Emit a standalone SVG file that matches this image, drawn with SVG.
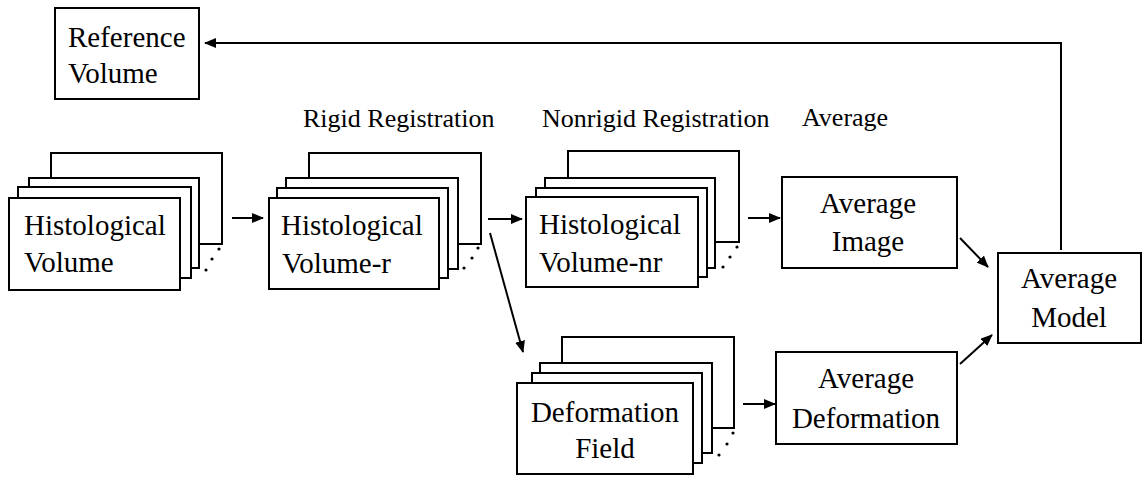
<svg xmlns="http://www.w3.org/2000/svg" width="1143" height="477" viewBox="0 0 1143 477">
<style>
rect{fill:#fff;stroke:#000;stroke-width:2}
text{font-family:"Liberation Serif","Times New Roman",Times,Tinos,"Nimbus Roman","Nimbus Roman No9 L","Noto Serif","DejaVu Serif",FreeSerif,serif;fill:#000}
.m{font-size:29px}
.c{text-anchor:middle}
.l{font-size:26px}
.dot{fill:#000}
.cn line,.cn polyline{stroke:#000;stroke-width:2;fill:none;marker-end:url(#ah)}
</style>
<defs>
<marker id="ah" markerUnits="userSpaceOnUse" markerWidth="12" markerHeight="10" refX="11" refY="5" orient="auto">
<path d="M0,0 L12,5 L0,10 Z" fill="#000"/>
</marker>
</defs>
<rect width="1143" height="477" style="fill:#fff;stroke:none"/>

<g id="reference-volume">
<rect x="55" y="8" width="144" height="91"/>
<text class="m" x="68" y="47">Reference</text>
<text class="m" x="68" y="83">Volume</text>
</g>

<g id="labels">
<text class="l" x="303" y="127">Rigid Registration</text>
<text class="l" x="542" y="127">Nonrigid Registration</text>
<text class="l" x="802" y="126">Average</text>
</g>

<g id="histological-volume">
<rect x="51" y="153" width="171" height="91"/>
<rect x="29" y="178" width="170" height="90"/>
<rect x="18" y="187" width="173" height="91"/>
<rect x="9" y="198" width="171" height="92"/>
<circle class="dot" cx="206" cy="270" r="1.6"/>
<circle class="dot" cx="212" cy="259" r="1.6"/>
<circle class="dot" cx="219" cy="249" r="1.6"/>
<text class="m" x="24" y="235">Histological</text>
<text class="m" x="24" y="272">Volume</text>
</g>

<g id="histological-volume-r">
<rect x="309" y="153" width="172" height="91"/>
<rect x="286" y="178" width="172" height="91"/>
<rect x="277" y="188" width="171" height="90"/>
<rect x="269" y="198" width="170" height="91"/>
<circle class="dot" cx="464" cy="268" r="1.6"/>
<circle class="dot" cx="472" cy="258" r="1.6"/>
<circle class="dot" cx="478" cy="248" r="1.6"/>
<text class="m" x="281" y="235">Histological</text>
<text class="m" x="282" y="273">Volume-r</text>
</g>

<g id="histological-volume-nr">
<rect x="568" y="151" width="171" height="91"/>
<rect x="545" y="178" width="170" height="90"/>
<rect x="536" y="188" width="171" height="89"/>
<rect x="526" y="197" width="172" height="90"/>
<circle class="dot" cx="723" cy="267" r="1.6"/>
<circle class="dot" cx="730" cy="257" r="1.6"/>
<circle class="dot" cx="737" cy="247" r="1.6"/>
<text class="m" x="539" y="234">Histological</text>
<text class="m" x="539" y="272">Volume-nr</text>
</g>

<g id="deformation-field">
<rect x="562" y="337" width="172" height="91"/>
<rect x="540" y="363" width="172" height="90"/>
<rect x="532" y="373" width="170" height="90"/>
<rect x="517" y="383" width="176" height="91"/>
<circle class="dot" cx="719" cy="455" r="1.6"/>
<circle class="dot" cx="727" cy="444" r="1.6"/>
<circle class="dot" cx="733" cy="433" r="1.6"/>
<text class="m c" x="605" y="422">Deformation</text>
<text class="m c" x="605" y="458">Field</text>
</g>

<g id="average-image">
<rect x="782" y="177" width="175" height="91"/>
<text class="m c" x="868" y="213">Average</text>
<text class="m c" x="868" y="251">Image</text>
</g>

<g id="average-deformation">
<rect x="776" y="352" width="181" height="92"/>
<text class="m c" x="866" y="388">Average</text>
<text class="m c" x="866" y="428">Deformation</text>
</g>

<g id="average-model">
<rect x="998" y="253" width="143" height="90"/>
<text class="m c" x="1069" y="288">Average</text>
<text class="m c" x="1069" y="327">Model</text>
</g>

<g id="connectors" class="cn">
<polyline points="1061,250 1061,43 205,43"/>
<line x1="232" y1="218" x2="263" y2="218"/>
<line x1="488" y1="219" x2="522" y2="219"/>
<line x1="490" y1="233" x2="523" y2="352"/>
<line x1="748" y1="218" x2="780" y2="218"/>
<line x1="960" y1="238" x2="988" y2="267"/>
<line x1="960" y1="364" x2="992" y2="335"/>
<line x1="743" y1="404" x2="775" y2="404"/>
</g>
</svg>
